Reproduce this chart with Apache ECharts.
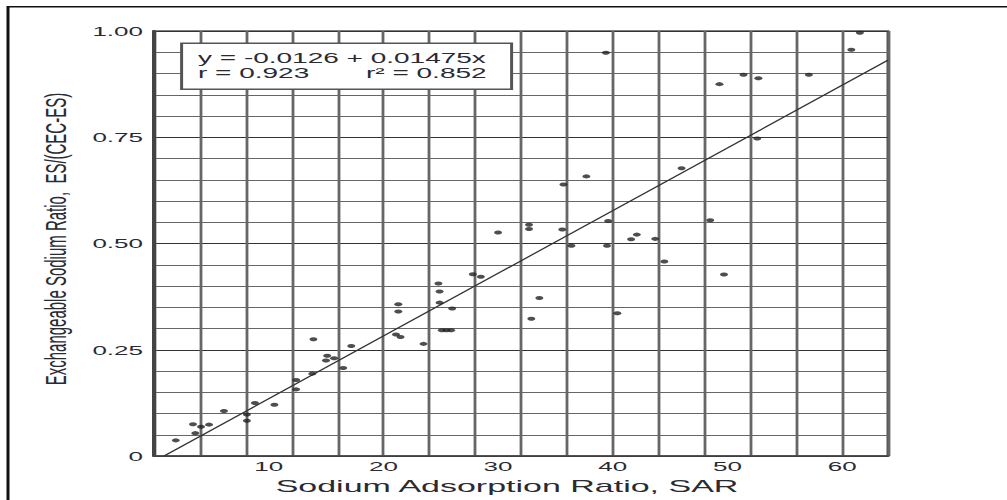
<!DOCTYPE html>
<html>
<head>
<meta charset="utf-8">
<script src="https://cdn.jsdelivr.net/npm/echarts@6/dist/echarts.min.js"></script>
<style>
  html, body { margin: 0; padding: 0; background: #fff; overflow: hidden; }
  #wrap { width: 1007px; height: 500px; overflow: hidden; position: relative; }
  #chart { width: 503.5px; height: 500px; transform: scaleX(2); transform-origin: 0 0; }
</style>
</head>
<body>
<div id="wrap"><div id="chart"></div></div>
<script>
// Sodium Adsorption Ratio (x) and Exchangeable Sodium Ratio (y)
const sar = [1.9, 3.4, 3.6, 4.1, 4.8, 6.1, 8.1, 8.1, 8.8, 10.5,
             12.4, 12.4, 13.8, 13.9, 15.0, 15.1, 15.7, 16.5, 17.2, 21.1,
             21.5, 21.3, 21.3, 23.5, 24.8, 24.9, 24.9, 25.1, 25.5, 25.9,
             26.0, 27.8, 28.5, 30.0, 32.7, 32.7, 32.9, 33.6, 35.6, 35.7,
             36.4, 37.7, 39.4, 39.5, 39.6, 40.4, 41.6, 42.1, 43.7, 44.5,
             46.0, 48.5, 49.3, 49.7, 51.4, 52.6, 52.7, 57.1, 60.8, 61.55];
const esr = [0.037, 0.075, 0.054, 0.069, 0.074, 0.106, 0.098, 0.083, 0.125, 0.121,
             0.179, 0.157, 0.194, 0.275, 0.225, 0.236, 0.230, 0.207, 0.259, 0.286,
             0.280, 0.357, 0.340, 0.264, 0.406, 0.387, 0.361, 0.296, 0.296, 0.296,
             0.347, 0.428, 0.422, 0.526, 0.544, 0.534, 0.323, 0.372, 0.533, 0.639,
             0.495, 0.658, 0.949, 0.495, 0.553, 0.336, 0.510, 0.521, 0.511, 0.458,
             0.677, 0.555, 0.875, 0.427, 0.897, 0.747, 0.889, 0.897, 0.956, 0.996];
const intercept = -0.0126;
const slope = 0.01475;
const xMin = 0, xMax = 64;
const xTickLabels = ['10', '20', '30', '40', '50', '60'];
const yTickLabels = ['0', '0.25', '0.50', '0.75', '1.00'];
const eqLine1 = 'y = -0.0126 + 0.01475x';
const eqLine2a = 'r = 0.923';
const eqLine2b = 'r\u00B2 = 0.852';

const FONT = '"Liberation Sans", Arial, Helvetica, sans-serif';
const TXT = '#2a2a33';

const points = sar.map((x, i) => [x, esr[i]]);
const xStart = -intercept / slope;
const fitLine = [[xStart, intercept + slope * xStart], [xMax, intercept + slope * xMax]];

const chart = echarts.init(document.getElementById('chart'), null, { renderer: 'svg' });
chart.setOption({
  animation: false,
  backgroundColor: '#fff',
  grid: { left: 77, top: 31, width: 367, height: 434, show: true, borderColor: '#555', borderWidth: 1.5, backgroundColor: 'transparent' },
  xAxis: [
    {
      type: 'value', min: xMin, max: xMax, interval: 4, position: 'bottom',
      axisLabel: { show: false }, axisTick: { show: false },
      axisLine: { show: true, lineStyle: { color: '#444', width: 1.5 } },
      splitLine: { show: true, lineStyle: { color: '#666', width: 1.4 } }
    },
    {
      type: 'value', min: xMin, max: xMax, interval: 10, position: 'bottom',
      axisLine: { show: false }, axisTick: { show: false }, splitLine: { show: false },
      axisLabel: { margin: 4, fontSize: 13, color: TXT, fontFamily: FONT,
        showMaxLabel: false, showMinLabel: false,
        formatter: v => (xTickLabels.indexOf(String(v)) >= 0 ? String(v) : '') },
      name: 'Sodium Adsorption Ratio, SAR', nameLocation: 'middle', nameGap: 16,
      nameTextStyle: { fontSize: 17, color: TXT, fontFamily: FONT, padding: [0, 14, 0, 0] }
    }
  ],
  yAxis: {
    type: 'value', min: 0, max: 1, interval: 0.25,
    axisLabel: { margin: 5.5, fontSize: 13, color: TXT, fontFamily: FONT,
      formatter: v => yTickLabels[Math.round(v / 0.25)] },
    axisTick: { show: false },
    axisLine: { show: true, lineStyle: { color: '#444', width: 2 } },
    splitLine: { show: true, lineStyle: { color: '#333', width: 1 } },
    minorTick: { show: false, splitNumber: 5 },
    minorSplitLine: { show: true, lineStyle: { color: '#666', width: 1 } },
    name: 'Exchangeable Sodium Ratio,  ES/(CEC-ES)', nameLocation: 'middle', nameGap: 38,
    nameTextStyle: { fontSize: 15, color: TXT, fontFamily: FONT, padding: [0, 0, 0, 9] }
  },
  series: [
    {
      type: 'line', data: fitLine, xAxisIndex: 0, showSymbol: false, symbol: 'none',
      lineStyle: { color: '#333', width: 1 }, z: 3, silent: true
    },
    {
      type: 'scatter', data: points, xAxisIndex: 0, symbol: 'circle', symbolSize: 4,
      itemStyle: { color: '#222' }, z: 4, silent: true
    }
  ],
  graphic: [
    { type: 'rect', z: 200, shape: { x: 4, y: 6.7, width: 800, height: 800 },
      style: { fill: 'none', stroke: '#111', lineWidth: 1.5 } },
    { type: 'rect', z: 200, shape: { x: 90.8, y: 43.3, width: 165, height: 46 },
      style: { fill: '#fff', stroke: '#555', lineWidth: 1.5 } },
    { type: 'text', z: 201, x: 99, y: 58.3,
      style: { text: eqLine1, font: '14px ' + FONT, fill: TXT, textAlign: 'left', textVerticalAlign: 'middle' } },
    { type: 'text', z: 201, x: 99, y: 73.3,
      style: { text: eqLine2a, font: '14px ' + FONT, fill: TXT, textAlign: 'left', textVerticalAlign: 'middle' } },
    { type: 'text', z: 201, x: 243.3, y: 73.3,
      style: { text: eqLine2b, font: '14px ' + FONT, fill: TXT, textAlign: 'right', textVerticalAlign: 'middle' } }
  ]
});
</script>
</body>
</html>
